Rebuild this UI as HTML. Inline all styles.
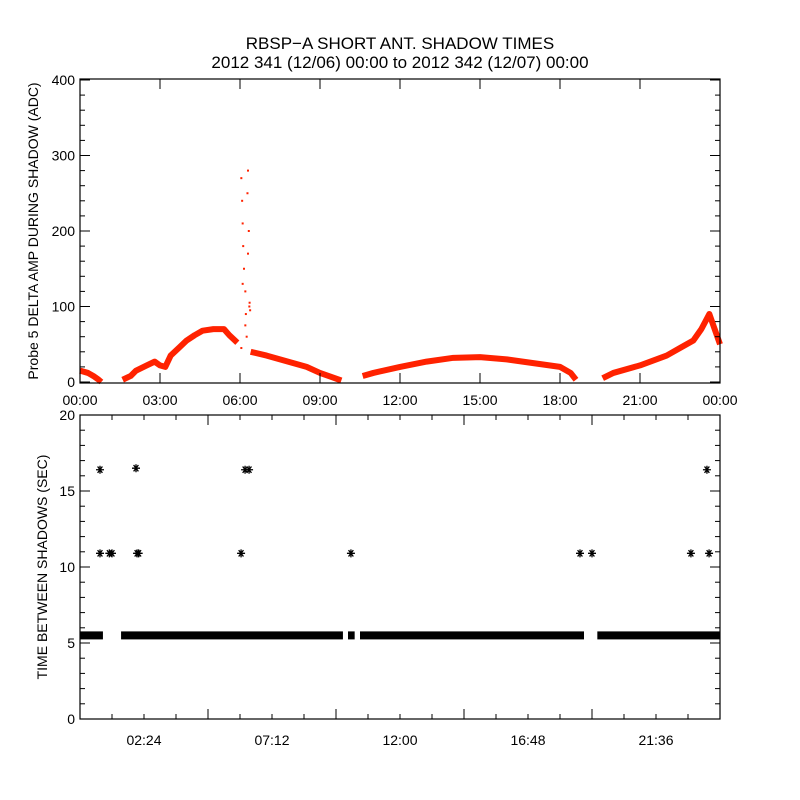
<!DOCTYPE html>
<html><head><meta charset="utf-8"><style>
body{margin:0;background:#fff}
svg{display:block;font-family:"Liberation Sans",sans-serif}
</style></head><body>
<svg id="chart" width="800" height="800" viewBox="0 0 800 800">
<rect width="800" height="800" fill="#fff"/>
<text x="400" y="49" font-size="17" text-anchor="middle">RBSP−A SHORT ANT. SHADOW TIMES</text>
<text x="400" y="68" font-size="17" text-anchor="middle">2012 341 (12/06) 00:00 to 2012 342 (12/07) 00:00</text>
<g id="topPanel"></g>
<g id="botPanel"></g>
</svg>
<script>
// Top panel: delta amp (hours, ADC) - segments separated by gaps
const ampSegments = [
  [[0.0,15],[0.3,12],[0.5,8],[0.7,3],[0.8,0]],
  [[1.6,3],[1.9,8],[2.1,15],[2.5,22],[2.8,27],[3.0,22],[3.2,20],[3.4,35],[3.7,45],[4.0,55],[4.3,62],[4.6,68],[5.0,70],[5.4,70],[5.6,62],[5.9,52]],
  [[6.4,40],[7.0,35],[7.5,30],[8.0,25],[8.5,20],[9.0,12],[9.4,7],[9.8,2]],
  [[10.6,8],[11.0,12],[12.0,20],[13.0,27],[14.0,32],[15.0,33],[16.0,30],[17.0,25],[18.0,20],[18.4,12],[18.6,3]],
  [[19.6,5],[20.0,12],[21.0,22],[22.0,35],[22.5,45],[23.0,55],[23.3,70],[23.6,90],[23.8,70],[24.0,50]]
];
const spikeHours = [6.05,6.08,6.1,6.12,6.15,6.2,6.22,6.25,6.28,6.3,6.33,6.35,6.38,6.1,6.2,6.3,6.36,6.05];
const spikeValues = [270,240,210,180,150,120,90,60,250,280,200,100,95,130,75,170,105,45];
const topYTicks = [0,100,200,300,400];
const topXTickLabels = ["00:00","03:00","06:00","09:00","12:00","15:00","18:00","21:00","00:00"];
// Bottom panel: time between shadows
const bandSegments = [[0.0,0.86],[1.54,9.86],[10.05,10.3],[10.5,18.9],[19.4,24.0]];
const bandValue = 5.5;
const starHours = [0.75,0.75,1.1,1.2,2.1,2.14,2.2,6.04,6.19,6.34,10.16,18.75,19.2,22.91,23.51,23.59];
const starValues = [16.4,10.9,10.9,10.9,16.5,10.9,10.9,10.9,16.4,16.4,10.9,10.9,10.9,10.9,16.4,10.9];
const botYTicks = [0,5,10,15,20];
const botXTickLabels = ["02:24","07:12","12:00","16:48","21:36"];

const NS="http://www.w3.org/2000/svg";
function mk(tag,attrs,parent){const e=document.createElementNS(NS,tag);for(const k in attrs)e.setAttribute(k,attrs[k]);parent.appendChild(e);return e;}
const X0=80,X1=720;
const xs=h=>X0+(h/24)*(X1-X0);
const yTop=v=>382-v*0.755;
const yBot=v=>719-v*15.2;
const topG=document.getElementById('topPanel'), botG=document.getElementById('botPanel');

// top data
ampSegments.forEach(seg=>{
  const p=mk('polyline',{points:seg.map(d=>xs(d[0])+','+yTop(d[1])).join(' '),fill:'none',stroke:'#ff2200','stroke-width':6,'stroke-linejoin':'round','stroke-linecap':'butt'},topG);
  
  
});
spikeHours.forEach((h,i)=>{
  const r=mk('rect',{x:xs(h)-1,y:yTop(spikeValues[i])-1,width:2,height:2,fill:'#ff2200'},topG);
  
  
});
// top frame
mk('rect',{x:X0,y:79,width:X1-X0,height:304,fill:'none',stroke:'#000','stroke-width':1.2},topG);
for(let v=0;v<=400;v+=20){const y=yTop(v);const L=(v%100===0)?10:5;
  mk('line',{x1:X0,x2:X0+L,y1:y,y2:y,stroke:'#000'},topG);mk('line',{x1:X1,x2:X1-L,y1:y,y2:y,stroke:'#000'},topG);}
topYTicks.forEach(v=>{const t=mk('text',{x:75,y:yTop(v)+5,'font-size':14,'text-anchor':'end'},topG);t.textContent=v;
  });
topXTickLabels.forEach((s,i)=>{const x=xs(i*3);
  mk('line',{x1:x,x2:x,y1:383,y2:373,stroke:'#000'},topG);mk('line',{x1:x,x2:x,y1:79,y2:89,stroke:'#000'},topG);
  const t=mk('text',{x:x,y:405,'font-size':14,'text-anchor':'middle'},topG);t.textContent=s;
  });
const yl=mk('text',{x:0,y:0,'font-size':14,'text-anchor':'middle',transform:'translate(38,231) rotate(-90)'},topG);
yl.textContent='Probe 5 DELTA AMP DURING SHADOW (ADC)';


// bottom data
bandSegments.forEach(s=>{
  const r=mk('rect',{x:xs(s[0]),y:yBot(bandValue)-4,width:xs(s[1])-xs(s[0]),height:8,fill:'#000'},botG);
  
  
});
starHours.forEach((h,i)=>{
  const cx=xs(h),cy=yBot(starValues[i]),r=4;
  const d=`M${cx-r},${cy}H${cx+r}M${cx-r*0.6},${cy-r*0.8}L${cx+r*0.6},${cy+r*0.8}M${cx-r*0.6},${cy+r*0.8}L${cx+r*0.6},${cy-r*0.8}M${cx},${cy-r}V${cy+r}`;
  const p=mk('path',{d:d,stroke:'#000','stroke-width':1.3,fill:'none'},botG);
  
  
});
mk('rect',{x:X0,y:415,width:X1-X0,height:304,fill:'none',stroke:'#000','stroke-width':1.2},botG);
for(let v=0;v<=20;v++){const y=yBot(v);const L=(v%5===0)?10:5;
  mk('line',{x1:X0,x2:X0+L,y1:y,y2:y,stroke:'#000'},botG);mk('line',{x1:X1,x2:X1-L,y1:y,y2:y,stroke:'#000'},botG);}
for(let k=1;k<20;k++){const h=k*1.2;const x=xs(h);const L=(k%4===0)?10:5;
  mk('line',{x1:x,x2:x,y1:719,y2:719-L,stroke:'#000'},botG);mk('line',{x1:x,x2:x,y1:415,y2:415+L,stroke:'#000'},botG);}
botYTicks.forEach(v=>{const t=mk('text',{x:75,y:yBot(v)+5,'font-size':14,'text-anchor':'end'},botG);t.textContent=v;
  });
botXTickLabels.forEach((s,i)=>{const t=mk('text',{x:xs((i+0.5)*4.8),y:745,'font-size':14,'text-anchor':'middle'},botG);t.textContent=s;
  });
const yl2=mk('text',{x:0,y:0,'font-size':14,'text-anchor':'middle',transform:'translate(47,567) rotate(-90)'},botG);
yl2.textContent='TIME BETWEEN SHADOWS (SEC)';

</script>
</body></html>
